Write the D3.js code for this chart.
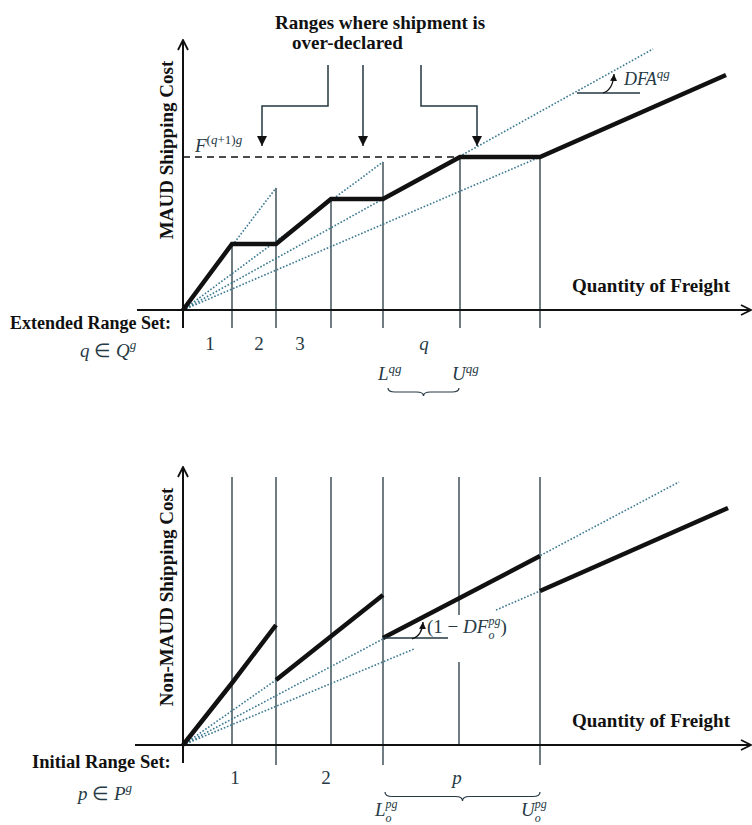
<!DOCTYPE html>
<html>
<head>
<meta charset="utf-8">
<script src="https://cdn.jsdelivr.net/npm/d3@7"></script>
<style>
  body { margin: 0; background: #fff; }
  svg text { font-family: "Liberation Serif", "Times New Roman", serif; white-space: pre; }
</style>
</head>
<body>
<div id="chart"></div>
<script>
// ---- values (quantity / cost units, 0 = where the axes cross)

// top panel: MAUD, extended range set
var extBreaks = [4.9, 9.3, 14.8, 20.0, 27.7, 35.7];
var extGuideTops = [6.6, 12.2, 11.1, 14.8, 15.3, 15.3];
var extLabels = ["1", "2", "3", "q"];
var extLabelX = [2.7, 7.6, 11.7, 24.1];
var maudX = [0, 4.9, 9.3, 14.8, 20.0, 27.7, 35.7, 54.3];
var maudY = [0, 6.6, 6.6, 11.1, 11.1, 15.3, 15.3, 23.5];
var nextBreakCost = 15.3;
var maudRays = [[9.3, 12.2], [20.0, 14.8], [47.0, 26.1], [35.7, 15.3]];
var overDeclaredX = [7.9, 18.0, 29.4];

// bottom panel: non-MAUD, initial range set
var initGuides = [4.9, 9.3, 14.8, 20.0, 27.6, 35.7];
var initBreaks = [9.3, 20.0, 35.7];
var initLabels = ["1", "2", "p"];
var initLabelX = [5.2, 14.3, 27.4];
var nonMaudSegments = [
  [[0, 0], [4.9, 6.2], [9.3, 12.0]],
  [[9.3, 6.5], [20.0, 15.0]],
  [[20.0, 10.7], [35.7, 18.9]],
  [[35.7, 15.4], [54.5, 23.7]]
];
var nonMaudRays = [
  [[0, 0], [9.3, 6.5]],
  [[0, 0], [49.6, 26.3]],
  [[0, 0], [23.1, 9.6]],
  [[31.3, 13.5], [35.7, 15.4]]
];

var W = 752, H = 825;
var thin = "#22373f", dotted = "#3a7891", mathColor = "#263a45", ink = "#111";

var svg = d3.select("#chart").append("svg")
  .attr("width", W).attr("height", H);

var defs = svg.append("defs");
defs.append("marker").attr("id", "tri")
  .attr("viewBox", "0 0 10 10").attr("refX", 10).attr("refY", 5)
  .attr("markerWidth", 10).attr("markerHeight", 10)
  .attr("markerUnits", "userSpaceOnUse").attr("orient", "auto")
  .append("path").attr("d", "M0,0 L10,5 L0,10 Z").attr("fill", ink);
defs.append("marker").attr("id", "small")
  .attr("viewBox", "0 0 10 10").attr("refX", 10).attr("refY", 5)
  .attr("markerWidth", 7).attr("markerHeight", 7)
  .attr("markerUnits", "userSpaceOnUse").attr("orient", "auto")
  .append("path").attr("d", "M0,0 L10,5 L0,10 Z").attr("fill", ink);
defs.append("marker").attr("id", "chev")
  .attr("viewBox", "0 0 12 12").attr("refX", 11).attr("refY", 6)
  .attr("markerWidth", 12).attr("markerHeight", 12)
  .attr("markerUnits", "userSpaceOnUse").attr("orient", "auto")
  .append("path").attr("d", "M1,1 L11,6 L1,11").attr("fill", "none")
  .attr("stroke", ink).attr("stroke-width", 1.8);

var x = d3.scaleLinear().domain([0, 57]).range([183, 753]);
var yTop = d3.scaleLinear().domain([0, 27]).range([310, 40]);
var yBot = d3.scaleLinear().domain([0, 27.8]).range([745, 467]);

var line = function (ys) {
  return d3.line().x(function (d) { return x(d[0]); }).y(function (d) { return ys(d[1]); });
};

// small helper for math-ish labels: pieces laid out one after the other
function mathText(g, x0, y0, pieces, size) {
  var cx = x0, lastStart = x0;
  pieces.forEach(function (p) {
    var px = p.stack ? lastStart : cx;
    var t = g.append("text")
      .attr("x", px).attr("y", y0 + (p.dy || 0))
      .attr("xml:space", "preserve")
      .style("font-size", (p.size || size) + "px")
      .style("font-style", p.it ? "italic" : "normal")
      .attr("fill", mathColor).text(p.t);
    var w = t.node().getComputedTextLength();
    if (p.stack) cx = Math.max(cx, px + w);
    else { lastStart = px; cx = px + w; }
  });
}

function brace(x1, x2, y, d) {
  var m = (x1 + x2) / 2, h = y + d / 2, r = 7;
  return "M" + x1 + "," + y + " Q" + x1 + "," + h + " " + (x1 + r) + "," + h +
    " L" + (m - r) + "," + h + " Q" + m + "," + h + " " + m + "," + (y + d) +
    " Q" + m + "," + h + " " + (m + r) + "," + h +
    " L" + (x2 - r) + "," + h + " Q" + x2 + "," + h + " " + x2 + "," + y;
}

function boldLabel(g, xx, yy, txt, size) {
  return g.append("text").attr("x", xx).attr("y", yy)
    .style("font-size", size + "px").style("font-weight", "bold")
    .attr("fill", ink).text(txt);
}

// ================= TOP PANEL =================
var topG = svg.append("g");

// guide lines at range breaks
topG.selectAll(".guide").data(extBreaks).enter().append("line")
  .attr("x1", function (d) { return x(d); }).attr("x2", function (d) { return x(d); })
  .attr("y1", function (d, i) { return yTop(extGuideTops[i]); })
  .attr("y2", yTop(-1.8))
  .attr("stroke", thin).attr("stroke-width", 1.3);

// dashed level F^(q+1)g
topG.append("line")
  .attr("x1", x(0)).attr("x2", x(27.7))
  .attr("y1", yTop(nextBreakCost)).attr("y2", yTop(nextBreakCost))
  .attr("stroke", ink).attr("stroke-width", 1.5).attr("stroke-dasharray", "7,5");

// dotted rays from the origin
topG.selectAll(".ray").data(maudRays).enter().append("path")
  .attr("d", function (d) { return line(yTop)([[0, 0], d]); })
  .attr("fill", "none").attr("stroke", dotted).attr("stroke-width", 1.6)
  .attr("stroke-dasharray", "1.6,1.8");

// axes
topG.append("line").attr("x1", x(-4.6)).attr("x2", 751)
  .attr("y1", yTop(0)).attr("y2", yTop(0))
  .attr("stroke", ink).attr("stroke-width", 2).attr("marker-end", "url(#chev)");
topG.append("line").attr("x1", x(0)).attr("x2", x(0))
  .attr("y1", yTop(-1.8)).attr("y2", yTop(27))
  .attr("stroke", ink).attr("stroke-width", 2).attr("marker-end", "url(#chev)");

// MAUD cost
topG.append("path")
  .attr("d", line(yTop)(maudX.map(function (v, i) { return [v, maudY[i]]; })))
  .attr("fill", "none").attr("stroke", ink).attr("stroke-width", 4.5)
  .attr("stroke-linejoin", "miter");

// "Ranges where shipment is over-declared" and its arrows
boldLabel(topG, 275, 29, "Ranges where shipment is", 19);
boldLabel(topG, 292, 49, "over-declared", 19);
var aTop = 65, aMid = 106, aTip = 146;
topG.append("path")
  .attr("d", "M328," + aTop + " V" + aMid + " H" + x(overDeclaredX[0]) + " V" + aTip)
  .attr("fill", "none").attr("stroke", thin).attr("stroke-width", 1.5).attr("marker-end", "url(#tri)");
topG.append("path")
  .attr("d", "M" + x(overDeclaredX[1]) + "," + aTop + " V" + aTip)
  .attr("fill", "none").attr("stroke", thin).attr("stroke-width", 1.5).attr("marker-end", "url(#tri)");
topG.append("path")
  .attr("d", "M421," + aTop + " V" + aMid + " H" + x(overDeclaredX[2]) + " V" + aTip)
  .attr("fill", "none").attr("stroke", thin).attr("stroke-width", 1.5).attr("marker-end", "url(#tri)");

// F^(q+1)g
mathText(topG, 195, 152, [
  { t: "F", it: true },
  { t: "(", size: 13, dy: -8 }, { t: "q", it: true, size: 13, dy: -8 },
  { t: "+1)", size: 13, dy: -8 }, { t: "g", it: true, size: 13, dy: -8 }
], 19);

// DFA^qg slope marker
topG.append("line").attr("x1", 577).attr("x2", 640).attr("y1", 93).attr("y2", 93)
  .attr("stroke", thin).attr("stroke-width", 1.3);
topG.append("path").attr("d", "M603,93 Q613,90 614,74")
  .attr("fill", "none").attr("stroke", ink).attr("stroke-width", 1.3)
  .attr("marker-end", "url(#small)");
mathText(topG, 624, 85, [
  { t: "DFA", it: true }, { t: "qg", it: true, size: 13, dy: -7 }
], 18);

// axis titles
boldLabel(topG, 572, 292, "Quantity of Freight", 19);
topG.append("text").attr("transform", "translate(173,150) rotate(-90)")
  .attr("text-anchor", "middle")
  .style("font-size", "19px").style("font-weight", "bold").attr("fill", ink)
  .text("MAUD Shipping Cost");
boldLabel(topG, 10, 329, "Extended Range Set:", 18);
mathText(topG, 80, 357, [
  { t: "q", it: true }, { t: " \u2208 " }, { t: "Q", it: true },
  { t: "g", it: true, size: 13, dy: -8 }
], 19);

topG.selectAll(".rl").data(extLabels).enter().append("text")
  .attr("x", function (d, i) { return x(extLabelX[i]); }).attr("y", 350)
  .attr("text-anchor", "middle")
  .style("font-size", "19px")
  .style("font-style", function (d) { return d === "q" ? "italic" : "normal"; })
  .attr("fill", mathColor).text(function (d) { return d; });

mathText(topG, 378, 380, [{ t: "L", it: true }, { t: "qg", it: true, size: 13, dy: -7 }], 19);
mathText(topG, 452, 380, [{ t: "U", it: true }, { t: "qg", it: true, size: 13, dy: -7 }], 19);
topG.append("path").attr("d", brace(x(20.5), x(27.6), 388, 8))
  .attr("fill", "none").attr("stroke", mathColor).attr("stroke-width", 1.2);

// ================= BOTTOM PANEL =================
var botG = svg.append("g");

botG.selectAll(".guide").data(initGuides).enter().append("line")
  .attr("x1", function (d) { return x(d); }).attr("x2", function (d) { return x(d); })
  .attr("y1", yBot(26.8))
  .attr("y2", function (d) { return initBreaks.indexOf(d) >= 0 ? yBot(-2) : yBot(0); })
  .attr("stroke", thin).attr("stroke-width", 1.3);
// gap in the guide behind the (1 - DF) label
botG.append("rect").attr("x", x(27.6) - 3).attr("y", yBot(13.0))
  .attr("width", 6).attr("height", yBot(8.3) - yBot(13.0)).attr("fill", "#fff");

botG.selectAll(".ray").data(nonMaudRays).enter().append("path")
  .attr("d", function (d) { return line(yBot)(d); })
  .attr("fill", "none").attr("stroke", dotted).attr("stroke-width", 1.6)
  .attr("stroke-dasharray", "1.6,1.8");

botG.append("line").attr("x1", x(-4.8)).attr("x2", 751)
  .attr("y1", yBot(0)).attr("y2", yBot(0))
  .attr("stroke", ink).attr("stroke-width", 2).attr("marker-end", "url(#chev)");
botG.append("line").attr("x1", x(0)).attr("x2", x(0))
  .attr("y1", yBot(-1.8)).attr("y2", yBot(27.8))
  .attr("stroke", ink).attr("stroke-width", 2).attr("marker-end", "url(#chev)");

botG.selectAll(".seg").data(nonMaudSegments).enter().append("path")
  .attr("d", function (d) { return line(yBot)(d); })
  .attr("fill", "none").attr("stroke", ink).attr("stroke-width", 4.5);

// (1 - DF_o^pg) slope marker
botG.append("line").attr("x1", x(20.0)).attr("x2", 448)
  .attr("y1", yBot(10.7)).attr("y2", yBot(10.7))
  .attr("stroke", thin).attr("stroke-width", 1.3);
botG.append("path").attr("d", "M412,639 Q422,636 423,622")
  .attr("fill", "none").attr("stroke", ink).attr("stroke-width", 1.3)
  .attr("marker-end", "url(#small)");
mathText(botG, 427, 633, [
  { t: "(1 \u2212 " }, { t: "DF", it: true },
  { t: "pg", it: true, size: 12, dy: -8 }, { t: "o", it: true, size: 12, dy: 6, stack: true },
  { t: ")" }
], 19);

boldLabel(botG, 572, 727, "Quantity of Freight", 19);
botG.append("text").attr("transform", "translate(173,597) rotate(-90)")
  .attr("text-anchor", "middle")
  .style("font-size", "19px").style("font-weight", "bold").attr("fill", ink)
  .text("Non-MAUD Shipping Cost");
boldLabel(botG, 32, 768, "Initial Range Set:", 18.5);
mathText(botG, 78, 800, [
  { t: "p", it: true }, { t: " \u2208 " }, { t: "P", it: true },
  { t: "g", it: true, size: 13, dy: -8 }
], 19);

botG.selectAll(".rl").data(initLabels).enter().append("text")
  .attr("x", function (d, i) { return x(initLabelX[i]); }).attr("y", 784)
  .attr("text-anchor", "middle")
  .style("font-size", "19px")
  .style("font-style", function (d) { return d === "p" ? "italic" : "normal"; })
  .attr("fill", mathColor).text(function (d) { return d; });

botG.append("path").attr("d", brace(x(20.2), x(35.7), 792, 9))
  .attr("fill", "none").attr("stroke", mathColor).attr("stroke-width", 1.2);
mathText(botG, 375, 816, [
  { t: "L", it: true }, { t: "pg", it: true, size: 12, dy: -8 }, { t: "o", it: true, size: 12, dy: 6, stack: true }
], 19);
mathText(botG, 521, 816, [
  { t: "U", it: true }, { t: "pg", it: true, size: 12, dy: -8 }, { t: "o", it: true, size: 12, dy: 6, stack: true }
], 19);
</script>
</body>
</html>
